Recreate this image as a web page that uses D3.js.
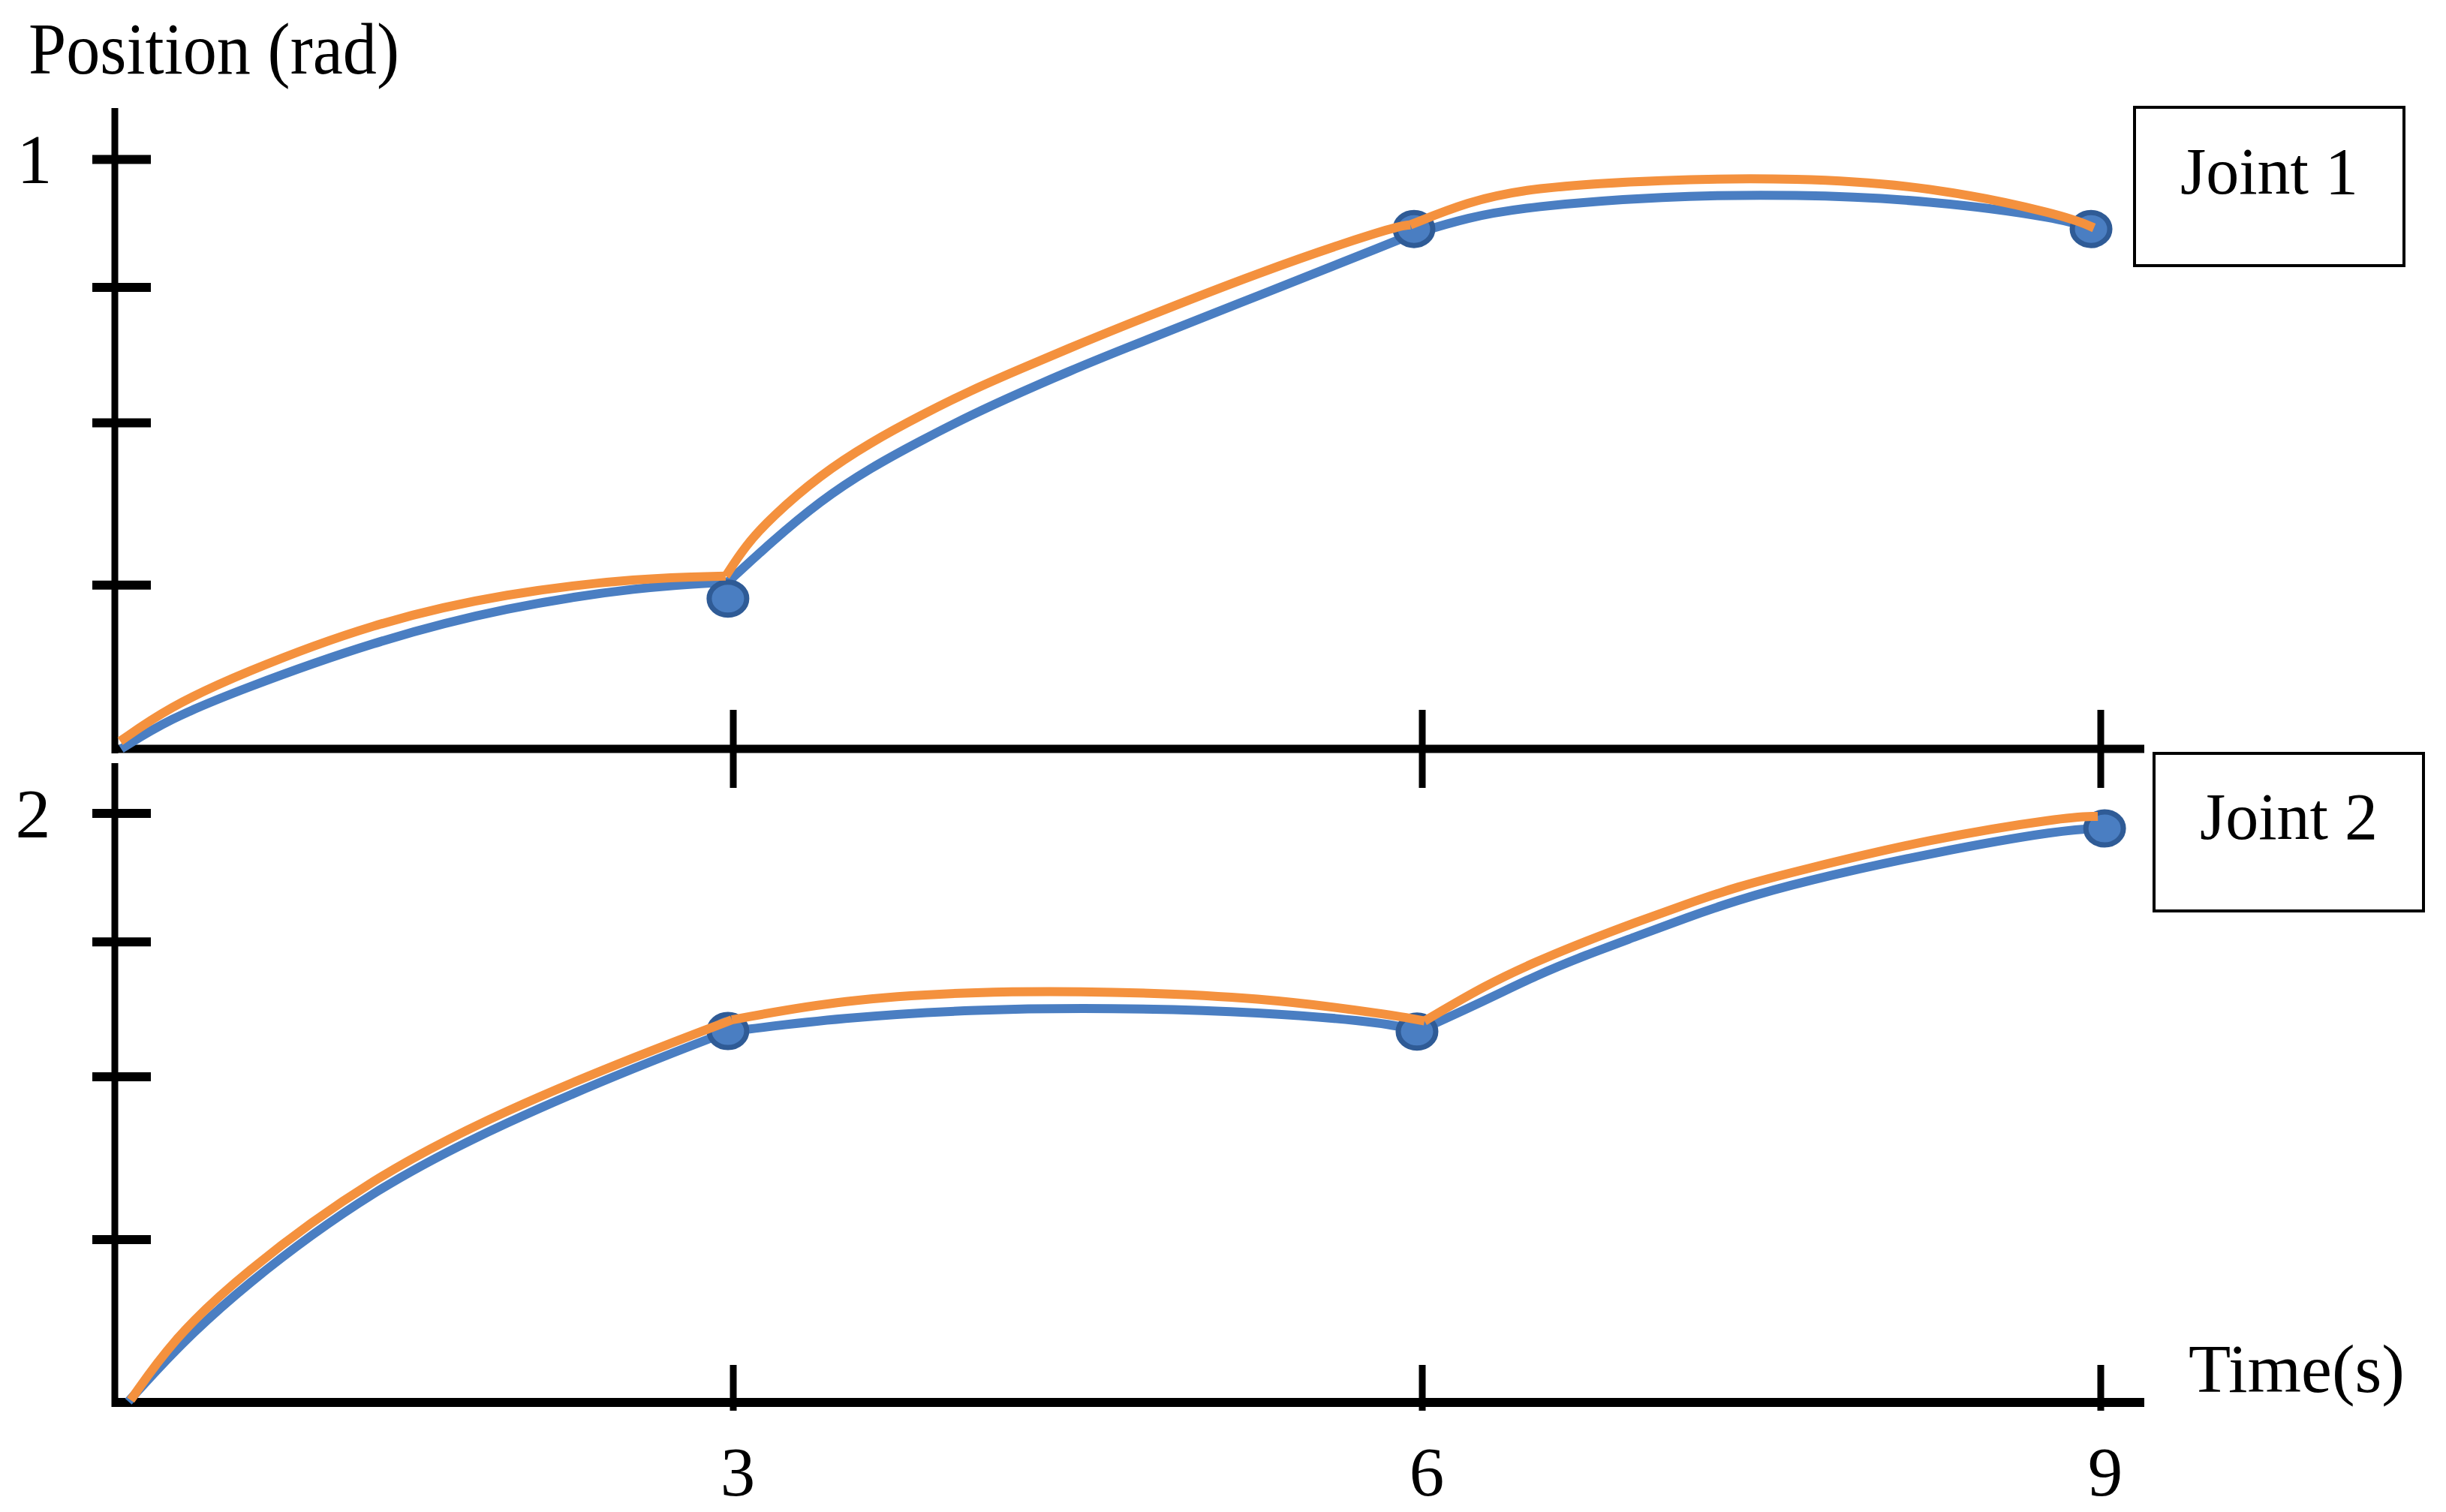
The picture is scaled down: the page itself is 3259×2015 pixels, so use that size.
<!DOCTYPE html>
<html>
<head>
<meta charset="utf-8">
<script src="https://cdn.jsdelivr.net/npm/d3@7"></script>
<style>
  html, body { margin: 0; padding: 0; background: #ffffff; }
  svg { display: block; }
  text { font-family: "Liberation Serif", "Times New Roman", serif; fill: #000; }
</style>
</head>
<body>
<svg id="chart" width="3259" height="2015"></svg>
<script>
// ---------------- DATA ----------------
const timeTicks = [0, 3, 6, 9];          // x-axis knots (s); labels shown for 3, 6, 9
const timeLabels = ["3", "6", "9"];
const joint1TickValues = [0.278, 0.553, 0.783, 1];   // rad (only "1" labelled)
const joint2TickValues = [0.553, 1.106, 1.564, 2];   // rad (only "2" labelled)
const joint1TickLabels = ["1"];
const joint2TickLabels = ["2"];
const panelNames = ["Joint 1", "Joint 2"];

// Joint 1 — blue trajectory, three segments [time, position]
const joint1Blue = [
  [[0.02, 0.0], [0.25, 0.050], [0.596, 0.100], [1.246, 0.182], [1.900, 0.241], [2.551, 0.275], [2.974, 0.283]],
  [[2.974, 0.283], [3.163, 0.350], [3.379, 0.421], [3.598, 0.477], [3.817, 0.523], [4.033, 0.566], [4.252, 0.605],
   [4.471, 0.642], [4.644, 0.670], [5.294, 0.770], [5.876, 0.860], [5.950, 0.872]],
  [[5.950, 0.872], [6.200, 0.902], [6.468, 0.920], [7.059, 0.938], [7.653, 0.941], [8.243, 0.931], [8.837, 0.900], [8.957, 0.882]]
];
// Joint 1 — orange trajectory
const joint1Orange = [
  [[0.015, 0.013], [0.25, 0.070], [0.596, 0.127], [1.246, 0.214], [1.900, 0.265], [2.551, 0.290], [2.963, 0.293]],
  [[2.963, 0.293], [3.052, 0.344], [3.163, 0.392], [3.379, 0.465], [3.598, 0.520], [3.817, 0.566], [4.033, 0.608],
   [4.252, 0.645], [4.471, 0.681], [4.644, 0.709], [5.294, 0.810], [5.876, 0.886], [5.948, 0.889]],
  [[5.948, 0.889], [6.200, 0.928], [6.468, 0.952], [7.059, 0.966], [7.653, 0.969], [8.243, 0.955], [8.837, 0.906], [8.970, 0.884]]
];
// Joint 1 — via points (dots)
const joint1Dots = [[2.974, 0.255], [5.964, 0.882], [8.957, 0.882]];

// Joint 2 — blue trajectory
const joint2Blue = [
  [[0.055, 0.003], [0.267, 0.168], [0.596, 0.387], [1.246, 0.726], [1.900, 0.955], [2.551, 1.146], [2.974, 1.259]],
  [[2.974, 1.259], [3.474, 1.307], [4.059, 1.335], [4.640, 1.340], [5.294, 1.327], [5.876, 1.287], [5.977, 1.259]],
  [[5.977, 1.259], [6.282, 1.366], [6.504, 1.450], [6.723, 1.519], [6.946, 1.582], [7.168, 1.646], [7.387, 1.704],
   [7.676, 1.768], [8.243, 1.865], [8.837, 1.946], [9.017, 1.949]]
];
// Joint 2 — orange trajectory
const joint2Orange = [
  [[0.066, 0.008], [0.267, 0.209], [0.596, 0.431], [1.246, 0.767], [1.900, 0.996], [2.551, 1.182], [2.993, 1.299]],
  [[2.993, 1.299], [3.474, 1.368], [4.059, 1.396], [4.640, 1.396], [5.294, 1.376], [5.876, 1.315], [6.010, 1.295]],
  [[6.010, 1.295], [6.282, 1.418], [6.504, 1.497], [6.723, 1.566], [6.946, 1.631], [7.168, 1.692], [7.387, 1.750],
   [7.676, 1.808], [8.243, 1.913], [8.837, 1.987], [8.987, 1.990]]
];
// Joint 2 — via points (dots)
const joint2Dots = [[2.974, 1.261], [5.977, 1.259], [9.017, 1.949]];

// ---------------- LAYOUT / STYLE ----------------
const BLUE = "#4A7EC2", ORANGE = "#F4913E", DOT_STROKE = "#2F5B96";
const axisX = 153;          // vertical axes
const axisEnd = 2857;       // right end of horizontal axes

const svg = d3.select("#chart");

// shared time scale (knots at the drawn tick positions)
const x = d3.scaleLinear().domain(timeTicks).range([156, 977, 1895, 2799]);

const panels = [
  { y: d3.scaleLinear().domain([0, 1]).range([998, 212.5]), top: 144,
    ticks: joint1TickValues, labels: joint1TickLabels, blue: joint1Blue, orange: joint1Orange, dots: joint1Dots,
    xTickUp: 52, xTickDown: 52, axisW: 11,
    box: { x: 2844, y: 143, w: 359, h: 211 }, name: panelNames[0], nameY: 258, labelX: 46 },
  { y: d3.scaleLinear().domain([0, 2]).range([1869, 1084]), top: 1017,
    ticks: joint2TickValues, labels: joint2TickLabels, blue: joint2Blue, orange: joint2Orange, dots: joint2Dots,
    xTickUp: 50, xTickDown: 11, axisW: 12,
    box: { x: 2870, y: 1004, w: 359, h: 210 }, name: panelNames[1], nameY: 1118, labelX: 44 }
];

const line = (y) => d3.line().x(d => x(d[0])).y(d => y(d[1])).curve(d3.curveBasis);

panels.forEach((p) => {
  const g = svg.append("g");
  const y0 = p.y(0);

  // y axis line
  g.append("line").attr("x1", axisX).attr("x2", axisX).attr("y1", p.top).attr("y2", y0 + 6)
    .attr("stroke", "#000").attr("stroke-width", 9);
  // y ticks (crossing the axis)
  g.selectAll(".yt").data(p.ticks).enter().append("line")
    .attr("x1", axisX - 30).attr("x2", axisX + 48)
    .attr("y1", d => p.y(d)).attr("y2", d => p.y(d))
    .attr("stroke", "#000").attr("stroke-width", 12);
  // y label on top tick
  g.append("text").attr("x", p.labelX).attr("y", p.y(p.ticks[p.ticks.length - 1]))
    .attr("dy", "0.34em").attr("text-anchor", "middle").attr("font-size", 94)
    .text(p.labels[0]);

  // x axis line
  g.append("line").attr("x1", axisX - 4).attr("x2", axisEnd).attr("y1", y0).attr("y2", y0)
    .attr("stroke", "#000").attr("stroke-width", p.axisW);
  // x ticks
  g.selectAll(".xt").data(timeTicks.slice(1)).enter().append("line")
    .attr("x1", d => x(d)).attr("x2", d => x(d))
    .attr("y1", y0 - p.xTickUp).attr("y2", y0 + p.xTickDown)
    .attr("stroke", "#000").attr("stroke-width", 9);

  // trajectories: blue, then dots, then orange
  p.blue.forEach(seg => g.append("path").attr("d", line(p.y)(seg))
    .attr("fill", "none").attr("stroke", BLUE).attr("stroke-width", 12).attr("stroke-linejoin", "round"));
  g.selectAll(".dot").data(p.dots).enter().append("ellipse")
    .attr("cx", d => x(d[0])).attr("cy", d => p.y(d[1]))
    .attr("rx", 25).attr("ry", 22)
    .attr("fill", BLUE).attr("stroke", DOT_STROKE).attr("stroke-width", 7);
  p.orange.forEach(seg => g.append("path").attr("d", line(p.y)(seg))
    .attr("fill", "none").attr("stroke", ORANGE).attr("stroke-width", 12).attr("stroke-linejoin", "round"));

  // joint label box
  g.append("rect").attr("x", p.box.x).attr("y", p.box.y).attr("width", p.box.w).attr("height", p.box.h)
    .attr("fill", "#fff").attr("stroke", "#000").attr("stroke-width", 4);
  g.append("text").attr("x", p.box.x + p.box.w / 2).attr("y", p.nameY)
    .attr("text-anchor", "middle").attr("font-size", 88).text(p.name);
});

// x tick labels (bottom)
svg.selectAll(".xl").data(timeTicks.slice(1)).enter().append("text")
  .attr("x", d => x(d) + 6).attr("y", 1993)
  .attr("text-anchor", "middle").attr("font-size", 93)
  .text((d, i) => timeLabels[i]);

// axis titles
svg.append("text").attr("x", 38).attr("y", 98).attr("font-size", 98)
  .attr("textLength", 494).attr("lengthAdjust", "spacingAndGlyphs").text("Position (rad)");
svg.append("text").attr("x", 2916).attr("y", 1855).attr("font-size", 92).text("Time(s)");
</script>
</body>
</html>
